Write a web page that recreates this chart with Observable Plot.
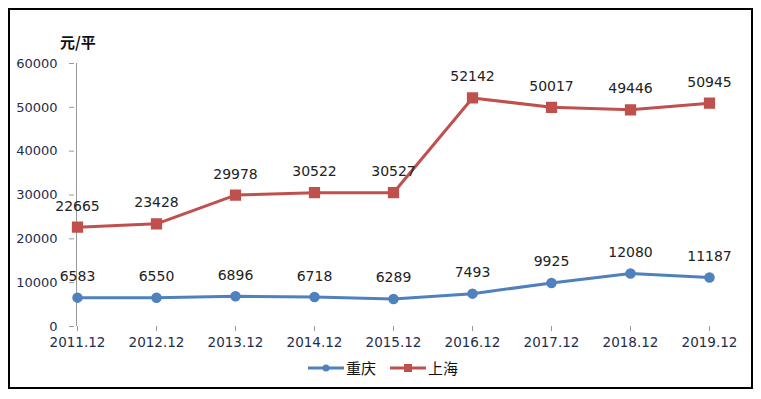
<!DOCTYPE html>
<html><head><meta charset="utf-8">
<script src="https://cdn.jsdelivr.net/npm/d3@7"></script>
<script src="https://cdn.jsdelivr.net/npm/@observablehq/plot@0.6"></script>
<style>
body{margin:0;background:#fff;font-family:"Noto Sans CJK SC","DejaVu Sans",sans-serif;}
#wrap{position:relative;width:761px;height:399px;overflow:hidden;}
#frame{position:absolute;left:8px;top:8px;width:741px;height:377px;border:2px solid #000;pointer-events:none;}
#unit{position:absolute;left:60px;top:31px;font-size:15px;font-weight:bold;color:#111;}
#legend{position:absolute;left:308px;top:357px;display:flex;align-items:center;gap:14px;font-size:15px;color:#111;}
.li{display:flex;align-items:center;gap:2px;}
</style></head>
<body><div id="wrap"><div id="chart"></div><div id="unit">元/平</div><div id="legend"></div><div id="frame"></div></div>
<script>
const years = ["2011.12","2012.12","2013.12","2014.12","2015.12","2016.12","2017.12","2018.12","2019.12"];
const chongqing = [6583,6550,6896,6718,6289,7493,9925,12080,11187];
const shanghai = [22665,23428,29978,30522,30527,52142,50017,49446,50945];
const seriesNames = ["重庆","上海"];
const colors = ["#4F81BD","#C0504D"];
const yTicks = [0,10000,20000,30000,40000,50000,60000];

const cq = years.map((y,i)=>({year:y,value:chongqing[i]}));
const sh = years.map((y,i)=>({year:y,value:shanghai[i]}));

const font = "'DejaVu Sans', sans-serif";
const chart = Plot.plot({
  width: 761, height: 399,
  marginLeft: 75, marginRight: 50, marginTop: 63, marginBottom: 73,
  style: {fontFamily: font, fontSize: "12px", background: "transparent"},
  x: {type: "point", domain: years, padding: 0, label: null},
  y: {domain: [0,60000], label: null},
  marks: [
    Plot.ruleX([years[0]], {stroke: "#999", strokeWidth: 1, y1: 0, y2: 60000, dx: -1}),
    Plot.ruleY([0], {stroke: "#999", strokeWidth: 1, x1: years[0], x2: years[years.length-1], dx: -1}),
    Plot.axisY({ticks: yTicks, tickSize: 5, tickPadding: 12, stroke: "#999", fill: "#1F2D4D", tickFormat: d=>String(d), fontSize: 13, dx: -1}),
    Plot.axisX({tickSize: 5, tickPadding: 6, stroke: "#999", fill: "#1F2D4D", fontSize: 13.5}),
    Plot.line(cq, {x:"year", y:"value", stroke: colors[0], strokeWidth: 3}),
    Plot.dot(cq, {x:"year", y:"value", r: 4.5, fill: colors[0], stroke: colors[0]}),
    Plot.line(sh, {x:"year", y:"value", stroke: colors[1], strokeWidth: 3}),
    Plot.dot(sh, {x:"year", y:"value", symbol: "square", r: 5.5, fill: colors[1], stroke: colors[1]}),
    Plot.text(cq, {x:"year", y:"value", text: d=>String(d.value), dy: -21, fill: "#222", fontSize: 14}),
    Plot.text(sh, {x:"year", y:"value", text: d=>String(d.value), dy: -21, fill: "#222", fontSize: 14})
  ]
});
document.getElementById("chart").appendChild(chart);

const lg = document.getElementById("legend");
seriesNames.forEach((n,i)=>{
  const d = document.createElement("div"); d.className="li";
  const mk = i===0
    ? `<circle cx="18" cy="6" r="3.5" fill="${colors[i]}"/>`
    : `<rect x="14" y="2" width="8" height="8" fill="${colors[i]}"/>`;
  d.innerHTML = `<svg width="36" height="12"><line x1="0" x2="36" y1="6" y2="6" stroke="${colors[i]}" stroke-width="3"/>${mk}</svg><span>${n}</span>`;
  lg.appendChild(d);
});
</script></body></html>
